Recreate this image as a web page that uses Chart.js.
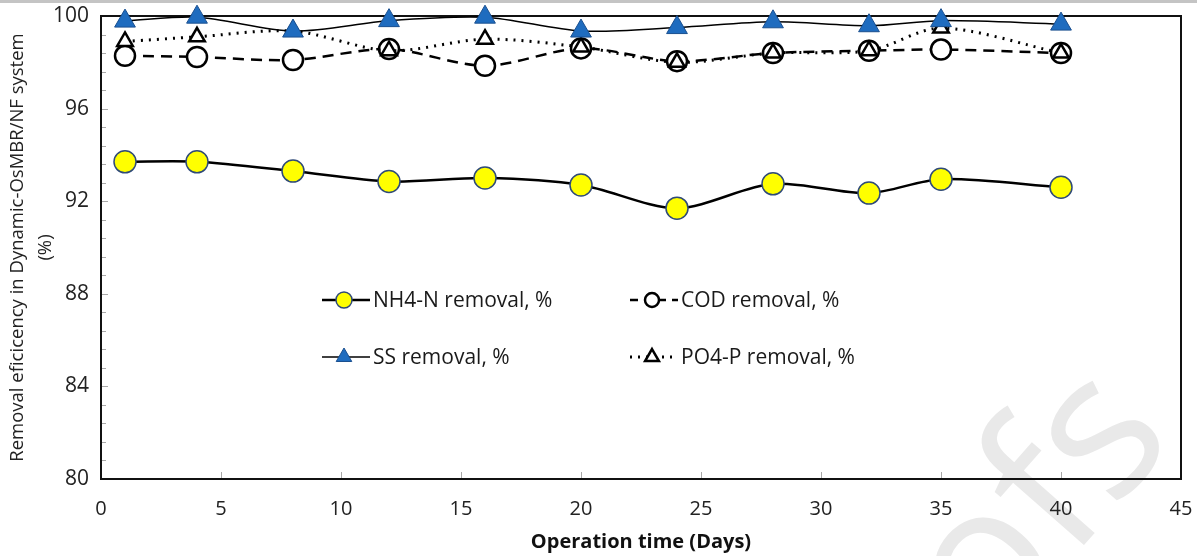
<html lang="en">
  <head>
    <meta charset="utf-8" />
    <title>Removal efficiency</title>
    <style>
      * { margin: 0; padding: 0; box-sizing: border-box; }
      body { width: 1197px; height: 556px; background: #fff; overflow: hidden; }
      .wrap { position: relative; width: 1197px; height: 556px; }
    </style>
  </head>
  <body>
    <div class="wrap">
      <canvas id="chart" width="1197" height="556"></canvas>
    </div>
    <script src="https://cdn.jsdelivr.net/npm/chart.js@4.4.0/dist/chart.umd.min.js"></script>
    <script>
      // operation days
      const days = [1, 4, 8, 12, 16, 20, 24, 28, 32, 35, 40];
      // removal efficiencies, %
      const nh4 = [93.7, 93.7, 93.3, 92.85, 93.0, 92.7, 91.7, 92.75, 92.35, 92.95, 92.6];
      const cod = [98.28, 98.23, 98.1, 98.57, 97.85, 98.6, 98.05, 98.4, 98.5, 98.55, 98.4];
      const ss = [99.78, 99.95, 99.35, 99.8, 99.95, 99.35, 99.5, 99.75, 99.58, 99.8, 99.65];
      const po4 = [98.9, 99.1, 99.35, 98.5, 99.0, 98.66, 98.0, 98.4, 98.5, 99.48, 98.4];

      const yTicks = [80, 84, 88, 92, 96, 100];
      const xTicks = [0, 5, 10, 15, 20, 25, 30, 35, 40, 45];

      const pts = (arr) => arr.map((v, i) => ({ x: days[i], y: v }));

      const fam = "'Open Sans', sans-serif";

      // frame, inside ticks, watermark, top band
      const decor = {
        id: "decor",
        beforeDraw(chart) {
          const c = chart.ctx;
          c.save();
          c.fillStyle = "#c4c4c4";
          c.fillRect(0, 0, chart.width, 3);
          // faint "Proofs" watermark
          c.translate(990, 652);
          c.rotate(-0.85);
          c.fillStyle = "#e9e9e9";
          c.font = "200px " + fam;
          c.fillText("ofs", 0, 0);
          c.restore();
        },
        beforeDatasetsDraw(chart) {
          const c = chart.ctx;
          const a = chart.chartArea;
          const xs = chart.scales.x, ys = chart.scales.y;
          c.save();
          c.strokeStyle = "#a8a8a8";
          c.lineWidth = 1;
          c.beginPath();
          for (let k = 1; k < 25; k++) {
            const v = 80 + k * 0.8;
            const py = Math.round(ys.getPixelForValue(v)) + 0.5;
            c.moveTo(a.left, py);
            c.lineTo(a.left + (k % 5 === 0 ? 7 : 5), py);
          }
          xTicks.slice(1, -1).forEach((v) => {
            const px = Math.round(xs.getPixelForValue(v)) + 0.5;
            c.moveTo(px, a.bottom);
            c.lineTo(px, a.bottom - 7);
          });
          c.stroke();
          c.strokeStyle = "#111";
          c.lineWidth = 2;
          c.strokeRect(a.left, a.top, a.right - a.left, a.bottom - a.top);
          c.restore();
        },
        afterDraw(chart) {
          // legend drawn inside the plot like the original
          const c = chart.ctx;
          const items = [
            { ds: 0, x: 322, y: 300 },
            { ds: 1, x: 630, y: 300 },
            { ds: 2, x: 322, y: 357 },
            { ds: 3, x: 630, y: 357 },
          ];
          c.save();
          items.forEach((it) => {
            const d = chart.data.datasets[it.ds];
            const mx = it.x + 22;
            c.strokeStyle = "#000";
            c.lineWidth = d.borderWidth;
            c.setLineDash(d.legendDash || []);
            c.beginPath();
            c.moveTo(it.x, it.y);
            c.lineTo(it.x + 48, it.y);
            c.stroke();
            c.setLineDash([]);
            c.fillStyle = d.pointBackgroundColor;
            c.strokeStyle = d.pointBorderColor;
            c.lineWidth = d.pointBorderWidth;
            c.beginPath();
            if (d.pointStyle === "circle") {
              c.arc(mx, it.y, d.legendRadius, 0, Math.PI * 2);
            } else {
              const r = d.legendRadius;
              let ang = 0;
              for (let k = 0; k < 3; k++) {
                const px = mx + Math.sin(ang) * r;
                const py = it.y - Math.cos(ang) * r;
                if (k === 0) c.moveTo(px, py); else c.lineTo(px, py);
                ang += (2 * Math.PI) / 3;
              }
              c.closePath();
            }
            c.fill();
            c.stroke();
            c.fillStyle = "#1a1a1a";
            c.font = "21px " + fam;
            c.textBaseline = "middle";
            c.fillText(d.label, it.x + 51, it.y + 1);
          });
          c.restore();
        },
      };

      new Chart(document.getElementById("chart"), {
        type: "line",
        data: {
          datasets: [
            {
              label: "NH4-N removal, %",
              data: pts(nh4),
              borderColor: "#000",
              borderWidth: 2.5,
              tension: 0.3,
              pointStyle: "circle",
              pointRadius: 11,
              legendRadius: 8,
              pointBackgroundColor: "#ffff00",
              pointBorderColor: "#2f4a78",
              pointBorderWidth: 1.5,
              clip: false,
              order: 4,
            },
            {
              label: "COD removal, %",
              data: pts(cod),
              borderColor: "#000",
              borderWidth: 2.5,
              borderDash: [11, 7],
              legendDash: [8, 6],
              tension: 0.3,
              pointStyle: "circle",
              pointRadius: 10,
              legendRadius: 7,
              pointBackgroundColor: "#fff",
              pointBorderColor: "#000",
              pointBorderWidth: 2.5,
              clip: false,
              order: 3,
            },
            {
              label: "SS removal, %",
              data: pts(ss),
              borderColor: "#000",
              borderWidth: 1.5,
              tension: 0.3,
              pointStyle: "triangle",
              pointRadius: 12,
              legendRadius: 9,
              pointBackgroundColor: "#1f6cbf",
              pointBorderColor: "#1a4f8f",
              pointBorderWidth: 1,
              clip: false,
              order: 1,
            },
            {
              label: "PO4-P removal, %",
              data: pts(po4),
              borderColor: "#000",
              borderWidth: 3,
              borderDash: [2, 6],
              legendDash: [2, 6],
              tension: 0.3,
              pointStyle: "triangle",
              pointRadius: 9,
              legendRadius: 8,
              pointBackgroundColor: "#fff",
              pointBorderColor: "#000",
              pointBorderWidth: 2.5,
              clip: false,
              order: 2,
            },
          ],
        },
        options: {
          responsive: false,
          animation: false,
          layout: { padding: { top: 16, right: 16, left: 0, bottom: 0 } },
          plugins: { legend: { display: false }, tooltip: { enabled: false } },
          scales: {
            x: {
              type: "linear",
              min: 0,
              max: 45,
              afterFit: (s) => { s.height = 77; s.paddingLeft = 0; s.paddingRight = 0; },
              afterBuildTicks: (s) => { s.ticks = xTicks.map((v) => ({ value: v })); },
              grid: { display: false, drawTicks: false },
              border: { display: false },
              ticks: { font: { family: fam, size: 20 }, color: "#222", padding: 18, maxRotation: 0 },
              title: {
                display: true,
                text: "Operation time (Days)",
                color: "#111",
                font: { family: fam, size: 20, weight: "bold" },
                padding: { top: 0, bottom: 2 },
              },
            },
            y: {
              type: "linear",
              min: 80,
              max: 100,
              afterFit: (s) => { s.width = 101; s.paddingTop = 0; s.paddingBottom = 0; },
              afterBuildTicks: (s) => { s.ticks = yTicks.map((v) => ({ value: v })); },
              grid: { display: false, drawTicks: false },
              border: { display: false },
              ticks: { font: { family: fam, size: 21 }, color: "#222", padding: 12 },
              title: {
                display: true,
                text: ["Removal eficicency in Dynamic-OsMBR/NF system", "(%)"],
                color: "#222",
                font: { family: fam, size: 18.5, lineHeight: 1.5 },
                padding: { top: 4, bottom: 0 },
              },
            },
          },
        },
        plugins: [decor],
      });
    </script>
  </body>
</html>
